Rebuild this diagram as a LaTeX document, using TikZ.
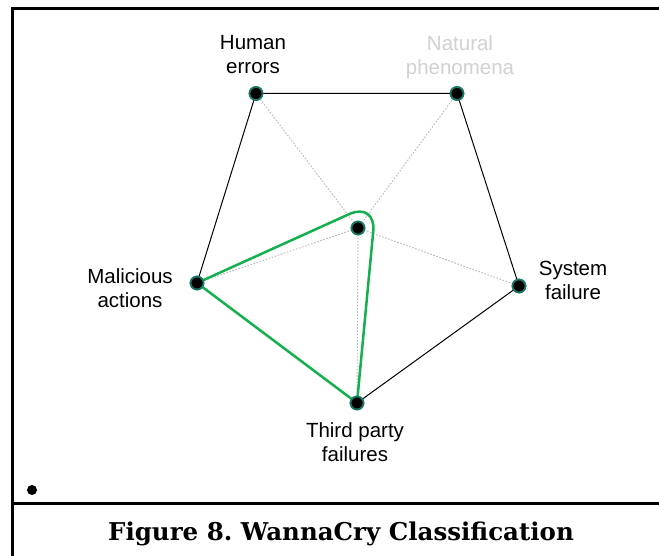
\documentclass[tikz,border=0pt]{standalone}
\usepackage{fontspec}
\setmainfont{Liberation Sans}
\newfontfamily\capfont{DejaVu Serif}
\frenchspacing
\begin{document}
\begin{tikzpicture}[x=1pt,y=-1pt,
  vertex/.style={circle,fill=black,draw=dotteal,line width=1.7pt,inner sep=0pt,minimum size=13pt},
  edge/.style={draw=black,line width=1pt},
  spoke/.style={draw=black!28,line width=0.9pt,dash pattern=on 1.6pt off 1.6pt},
  profile/.style={draw=profgreen,line width=2.5pt,line cap=round,line join=round},
  lbl/.style={font={\fontsize{20.5}{24}\selectfont},align=center,anchor=north,inner sep=0pt},
  frameline/.style={line width=3pt,line cap=rect}]
\definecolor{dotteal}{HTML}{1B7A68}
\definecolor{profgreen}{HTML}{14B04F}
\useasboundingbox (0,0) rectangle (659,556);
\fill[white] (0,0) rectangle (659,556);

% outer frame and caption separator
\draw[frameline] (12,556) -- (12,9) -- (670,9);
\draw[frameline] (12,503) -- (670,503);
\fill (32,490) circle (5);

% axis endpoints of the pentagon
\node[vertex] (hum) at (256,93.5) {};
\node[vertex] (nat) at (457,93.5) {};
\node[vertex] (sys) at (519,286) {};
\node[vertex] (thi) at (357,403) {};
\node[vertex] (mal) at (197,283) {};
\node[vertex] (ctr) at (358,228) {};
\coordinate (apex) at (376,202);

% spokes from the centre
\foreach \v in {hum,nat,sys,thi,mal}
  \draw[spoke] (ctr.center) -- (\v.center);

% pentagon outline
\draw[edge] (mal.center) -- (hum.center) -- (nat.center) -- (sys.center) -- (thi.center) -- (mal.center);

% classification profile
\draw[profile] (mal.center) -- (thi.center);
\draw[profile,rounded corners=29pt] (mal.center) -- (apex) -- (thi.center);

% redraw the dots on top
\foreach \v/\p in {hum/{256,93.5},nat/{457,93.5},sys/{519,286},thi/{357,403},mal/{197,283},ctr/{358,228}}
  \node[vertex] at (\p) {};

% labels
\node[lbl] (lhum) at (253,35) {Human\\errors};
\node[lbl,text=black!18] (lnat) at (460,35) {Natural\\phenomena};
\node[lbl] (lsys) at (573,261) {System\\failure};
\node[lbl] (lmal) at (130,268) {Malicious\\actions};
\node[lbl] (lthi) at (355,422) {Third party\\failures};

% caption
\node[font={\capfont\bfseries\fontsize{24.5}{28}\selectfont},anchor=base,inner sep=0pt] (cap) at (341,540) {Figure 8. WannaCry Classification};
\end{tikzpicture}
\end{document}
